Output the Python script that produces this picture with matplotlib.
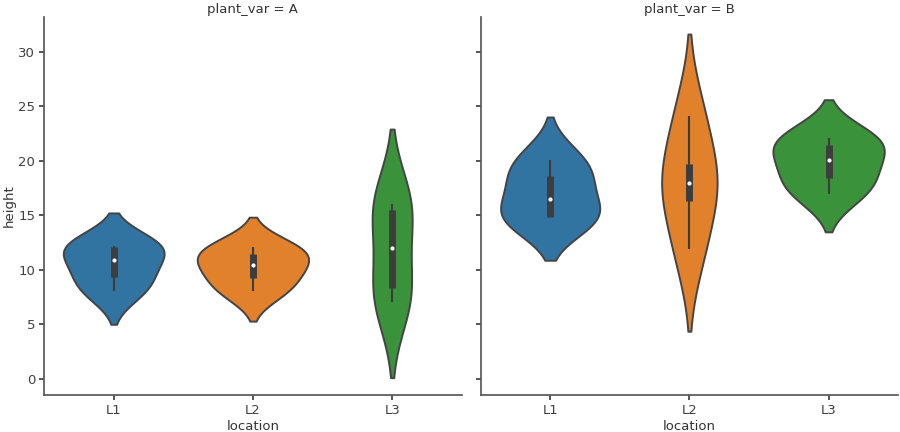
import numpy as np
import pandas as pd
import seaborn as sns
import matplotlib
matplotlib.use("Agg")
import matplotlib.pyplot as plt

# plant heights, four plants per variety and location
a_l1 = [8.0, 9.8, 12.0, 12.2]
a_l2 = [8.0, 9.7, 11.2, 12.1]
a_l3 = [7.0, 8.7, 15.3, 16.0]
b_l1 = [14.8, 14.9, 18.15, 20.1]
b_l2 = [11.9, 17.8, 18.2, 24.1]
b_l3 = [17.0, 18.9, 21.3, 22.1]

locations = ['L1', 'L2', 'L3']
varieties = ['A', 'B']

rows = []
for var, groups in zip(varieties, [[a_l1, a_l2, a_l3], [b_l1, b_l2, b_l3]]):
    for loc, vals in zip(locations, groups):
        for v in vals:
            rows.append({'plant_var': var, 'location': loc, 'height': v})
df = pd.DataFrame(rows)

sns.set_theme(style='ticks', rc={'font.size': 9.5, 'axes.labelsize': 9.5,
                                 'xtick.labelsize': 9.5, 'ytick.labelsize': 9.5,
                                 'axes.titlesize': 9.5,
                                 'axes.edgecolor': '0.35', 'text.color': '0.2',
                                 'axes.labelcolor': '0.2',
                                 'xtick.color': '0.25', 'ytick.color': '0.25',
                                 'xtick.major.size': 3.5, 'ytick.major.size': 3.5,
                                 'xtick.major.pad': 3, 'ytick.major.pad': 3})

box_col = '#3d3d3d'
fig, axes = plt.subplots(1, 2, sharey=True, figsize=(9, 4.32), dpi=100)
for ax, var in zip(axes, varieties):
    sub = df[df.plant_var == var]
    sns.violinplot(data=sub, x='location', y='height', hue='location',
                   order=locations, hue_order=locations, legend=False,
                   palette='tab10', common_norm=True, inner=None,
                   linecolor='#444444', linewidth=1.4, ax=ax)
    # inner box: whiskers, quartile box and median dot
    for i, loc in enumerate(locations):
        vals = np.asarray(sub[sub.location == loc].height)
        q1, med, q3 = np.percentile(vals, [25, 50, 75])
        lim = 1.5 * (q3 - q1)
        lo = vals[vals >= q1 - lim].min()
        hi = vals[vals <= q3 + lim].max()
        ax.vlines(i, lo, hi, color=box_col, lw=1.5, zorder=3)
        ax.vlines(i, q1, q3, color=box_col, lw=5, zorder=3)
        ax.scatter([i], [med], s=9, color='white', zorder=4, linewidths=0)
    ax.set_xlim(-0.5, len(locations) - 0.5)
    ax.set_title('plant_var = ' + var, pad=3)
    ax.set_xlabel('location', labelpad=2)
    sns.despine(ax=ax)
axes[0].set_ylabel('height', labelpad=2)
axes[1].set_ylabel('')
axes[1].tick_params(labelleft=False)

plt.subplots_adjust(left=0.049, right=0.998, bottom=0.086, top=0.961, wspace=0.045)
plt.savefig('out.png')
